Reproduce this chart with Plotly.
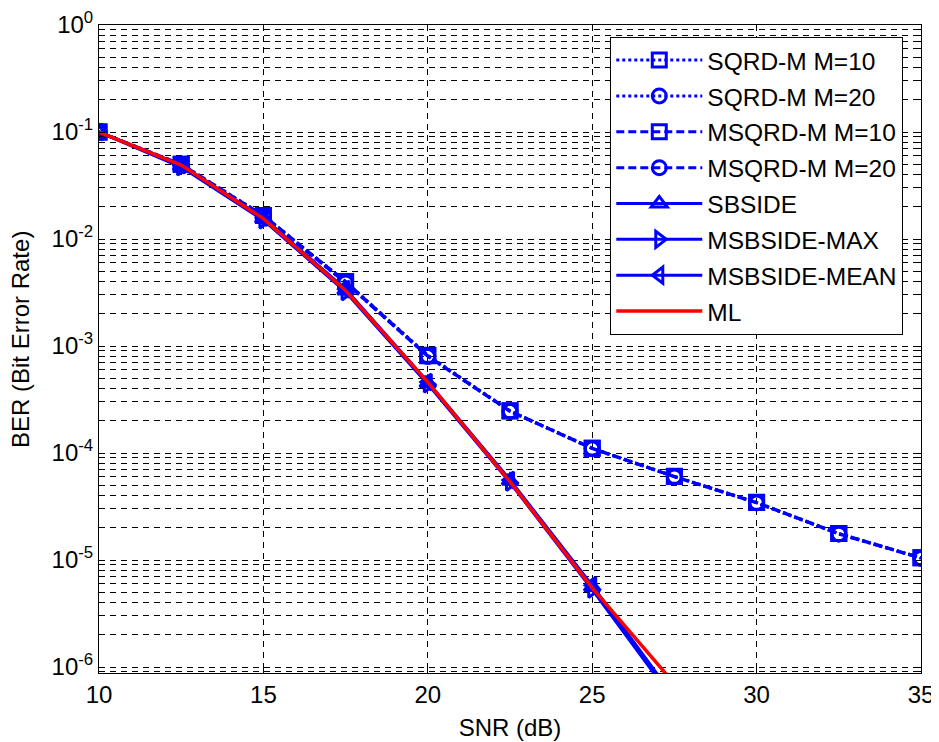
import plotly.graph_objects as go

snr = [10, 12.5, 15, 17.5, 20, 22.5, 25, 27.5, 30, 32.5, 35]
snr_low = [10, 12.5, 15, 17.5, 20, 22.5, 25, 27.5]

sqrd_m10 = [0.1, 0.050, 0.0166, 0.0040, 8.2e-4, 2.48e-4, 1.11e-4, 6.05e-5, 3.46e-5, 1.77e-5, 1.05e-5]
sqrd_m20 = [0.1, 0.049, 0.0163, 0.0039, 8.0e-4, 2.45e-4, 1.10e-4, 6.00e-5, 3.42e-5, 1.75e-5, 1.04e-5]
msqrd_m10 = [0.1, 0.050, 0.0166, 0.0040, 8.1e-4, 2.47e-4, 1.11e-4, 6.03e-5, 3.45e-5, 1.77e-5, 1.05e-5]
msqrd_m20 = [0.1, 0.049, 0.0163, 0.0039, 8.0e-4, 2.45e-4, 1.10e-4, 6.00e-5, 3.42e-5, 1.75e-5, 1.04e-5]

sbside = [0.1, 0.048, 0.0155, 0.0033, 4.5e-4, 5.5e-5, 5.6e-6, 5.0e-7]
msbside_max = [0.1, 0.047, 0.0150, 0.0032, 4.4e-4, 5.3e-5, 5.3e-6, 4.8e-7]
msbside_mean = [0.1, 0.049, 0.0158, 0.0034, 4.6e-4, 5.6e-5, 5.8e-6, 5.2e-7]
ml = [0.1, 0.049, 0.0155, 0.0033, 4.6e-4, 5.4e-5, 5.5e-6, 7.0e-7]

x_ticks = [10, 15, 20, 25, 30, 35]
y_tickvals = [1, 1e-1, 1e-2, 1e-3, 1e-4, 1e-5, 1e-6]
y_ticktext = ["10<sup>0</sup>", "10<sup>-1</sup>", "10<sup>-2</sup>", "10<sup>-3</sup>",
              "10<sup>-4</sup>", "10<sup>-5</sup>", "10<sup>-6</sup>"]

BLUE = "#0000FF"
RED = "#FF0000"
FONT = "Liberation Sans, Arial, sans-serif"
FS = 24

series = [
    ("SQRD-M M=10", snr, sqrd_m10, "dot", "square-open"),
    ("SQRD-M M=20", snr, sqrd_m20, "dot", "circle-open"),
    ("MSQRD-M M=10", snr, msqrd_m10, "8px,4px", "square-open"),
    ("MSQRD-M M=20", snr, msqrd_m20, "8px,4px", "circle-open"),
    ("SBSIDE", snr_low, sbside, "solid", "triangle-up-open"),
    ("MSBSIDE-MAX", snr_low, msbside_max, "solid", "triangle-right-open"),
    ("MSBSIDE-MEAN", snr_low, msbside_mean, "solid", "triangle-left-open"),
]

fig = go.Figure()
for i, (name, xs, ys, dash, sym) in enumerate(series):
    fig.add_trace(go.Scatter(
        x=xs, y=ys, name=name, mode="lines+markers",
        line=dict(color=BLUE, width=3, dash=dash),
        marker=dict(symbol=sym, size=14, color=BLUE, line=dict(color=BLUE, width=3)),
        legendgroup=f"g{i}",
    ))
fig.add_trace(go.Scatter(
    x=snr_low, y=ml, name="ML", mode="lines",
    line=dict(color=RED, width=3.5), legendgroup="g7",
))

grid_col = "#000000"
fig.update_xaxes(
    range=[10, 35], tickvals=x_ticks, ticks="inside", ticklen=6, tickcolor="black",
    showline=True, linecolor="black", linewidth=1, mirror="ticks",
    showgrid=True, gridcolor=grid_col, gridwidth=1, griddash="6px,5px",
    zeroline=False, automargin=False,
    title=dict(text="SNR (dB)", font=dict(family=FONT, size=FS, color="black"), standoff=12),
    tickfont=dict(family=FONT, size=FS, color="black"),
)
fig.update_yaxes(
    type="log", range=[-6.056, 0], tickvals=y_tickvals, ticktext=y_ticktext,
    ticks="inside", ticklen=6, tickcolor="black",
    showline=True, linecolor="black", linewidth=1, mirror="ticks",
    showgrid=True, gridcolor=grid_col, gridwidth=1, griddash="6px,5px",
    zeroline=False, automargin=False,
    minor=dict(dtick="D1", showgrid=True, gridcolor=grid_col, gridwidth=1, griddash="6px,5px",
               ticks="inside", ticklen=4, tickcolor="black"),
    tickfont=dict(family=FONT, size=FS, color="black"),
)
# the page body adds an 8px offset, so margins are shifted to compensate
fig.update_layout(
    width=939, height=742,
    margin=dict(l=91, r=26, t=17, b=77, autoexpand=False),
    plot_bgcolor="white", paper_bgcolor="white",
    font=dict(family=FONT, size=FS, color="black"),
    showlegend=True,
    legend=dict(
        x=0.622, y=0.982, xanchor="left", yanchor="top",
        bgcolor="white", bordercolor="black", borderwidth=1,
        font=dict(family=FONT, size=FS + 0.5, color="black"),
        tracegroupgap=1, itemwidth=86,
    ),
    annotations=[dict(
        text="BER (Bit Error Rate)", textangle=-90, showarrow=False,
        xref="paper", yref="paper", x=0, y=0.5, xanchor="center", yanchor="middle",
        xshift=-79, yshift=9, font=dict(family=FONT, size=FS, color="black"),
    )],
)

fig.write_html("out.html")
